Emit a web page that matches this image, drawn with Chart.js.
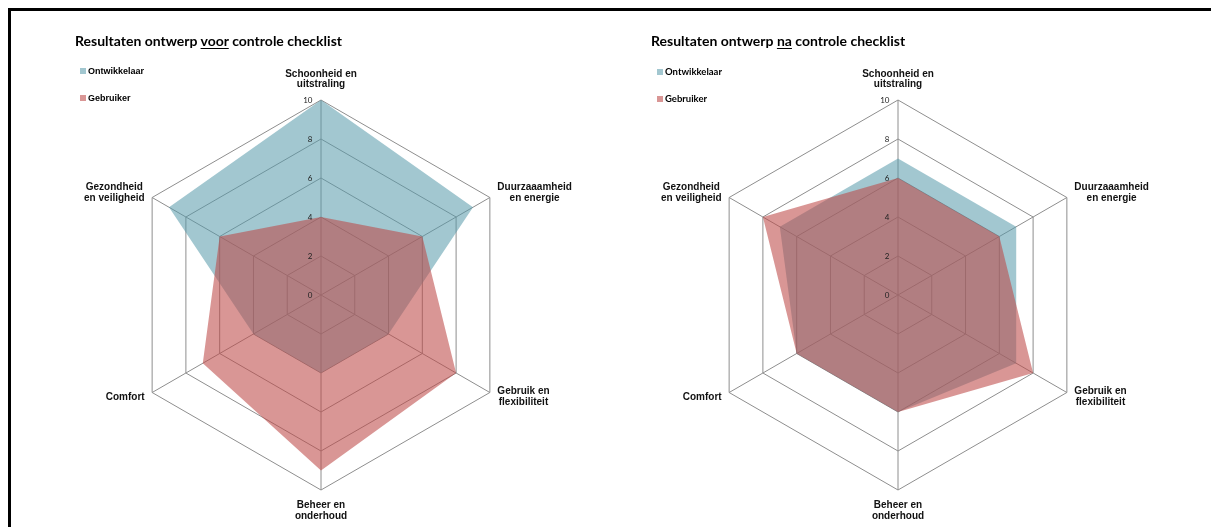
<!DOCTYPE html>
<html lang="nl">
<head>
<meta charset="utf-8">
<title>Resultaten ontwerp</title>
<script src="https://cdn.jsdelivr.net/npm/chart.js@4.4.1/dist/chart.umd.min.js"></script>
<style>
  html, body { margin: 0; padding: 0; background: #fff; }
  body { width: 1211px; height: 527px; position: relative; overflow: hidden; }
  .frame { position: absolute; left: 8px; top: 8px; width: 1400px; height: 800px; border: 3px solid #000; box-sizing: border-box; }
  canvas { position: absolute; top: 0; }
  .title { position: absolute; top: 33px; font: 700 14px "Lato", "Open Sans", sans-serif; line-height: 16px; color: #000; white-space: nowrap; }
  .title u { text-decoration-thickness: 1px; text-underline-offset: 2px; }
  .legend { position: absolute; top: 66px; }
  .legend .item { position: absolute; left: 0; white-space: nowrap; height: 12px; line-height: 12px; color: #000; }
  .legend .sw { display: inline-block; width: 6px; height: 6px; vertical-align: 0px; margin-right: 2px; }
  .legend.arial .item { font: 700 9px "Liberation Sans", Arial, sans-serif; }
  .legend.calibri .item { font: 700 9.5px "Lato", "Open Sans", sans-serif; }
</style>
</head>
<body>
<div class="frame"></div>

<canvas id="voor" width="605" height="527" style="left:0"></canvas>
<canvas id="na" width="606" height="527" style="left:605px"></canvas>

<div class="title" style="left:75px">Resultaten ontwerp <u>voor</u> controle checklist</div>
<div class="title" style="left:651px">Resultaten ontwerp <u>na</u> controle checklist</div>

<div class="legend arial" id="legVoor" style="left:80px"></div>
<div class="legend calibri" id="legNa" style="left:657px"></div>

<script>
// Criteria, clockwise from the top
const criteria = [
  ['Schoonheid en', 'uitstraling'],
  ['Duurzaaamheid', 'en energie'],
  ['Gebruik en', 'flexibiliteit'],
  ['Beheer en', 'onderhoud'],
  ['Comfort'],
  ['Gezondheid', 'en veiligheid']
];

const seriesNames = ['Ontwikkelaar', 'Gebruiker'];

// Scores before the checklist was applied
const ontwikkelaarVoor = [10, 9, 4, 4, 4, 9];
const gebruikerVoor    = [4, 6, 8, 9, 7, 6];

// Scores after the checklist was applied
const ontwikkelaarNa = [7, 7, 7, 6, 6, 7];
const gebruikerNa    = [6, 6, 8, 6, 6, 8];

// Value axis
const scaleMin = 0;
const scaleMax = 10;
const scaleStep = 2;

const blueFill = 'rgba(86, 153, 170, 0.55)';
const redFill  = 'rgba(190, 74, 72, 0.58)';
const gridColor = '#8e8e8e';

// Category labels around the web and tick values along the vertical spoke
const webLabels = {
  id: 'webLabels',
  afterDatasetsDraw(chart) {
    const s = chart.scales.r;
    const ctx = chart.ctx;
    ctx.save();
    ctx.fillStyle = '#111';
    ctx.textBaseline = 'middle';
    ctx.textAlign = 'center';
    ctx.font = 'bold 10px "Liberation Sans", Arial, sans-serif';
    const lh = 10.6;
    chart.data.labels.forEach((lab, i) => {
      const lines = Array.isArray(lab) ? lab : [lab];
      const p = s.getPointPosition(i, s.drawingArea);
      const dx = Math.cos(p.angle), dy = Math.sin(p.angle);
      const h = lines.length * lh;
      const w = Math.max(...lines.map(l => ctx.measureText(l).width));
      let cx, cy;
      if (Math.abs(dx) < 0.01) {
        cx = p.x;
        cy = p.y + dy * (h / 2 + 10);
      } else {
        cx = p.x + Math.sign(dx) * (7.5 + w / 2);
        cy = p.y + dy * 9;
      }
      lines.forEach((l, k) => ctx.fillText(l, cx, cy - h / 2 + lh / 2 + k * lh));
    });

    ctx.font = '8px "Lato", "Open Sans", sans-serif';
    ctx.fillStyle = '#222';
    ctx.textAlign = 'right';
    s.ticks.forEach(t => {
      const y = s.yCenter - s.getDistanceFromCenterForValue(t.value);
      ctx.fillText(String(t.value), s.xCenter - 8.5, y);
    });
    ctx.restore();
  }
};

function makeRadar(id, dev, user, pad) {
  return new Chart(document.getElementById(id), {
    type: 'radar',
    data: {
      labels: criteria,
      datasets: [
        { label: seriesNames[0], data: dev, backgroundColor: blueFill, borderWidth: 0, pointRadius: 0, fill: true, order: 1 },
        { label: seriesNames[1], data: user, backgroundColor: redFill, borderWidth: 0, pointRadius: 0, fill: true, order: 0 }
      ]
    },
    options: {
      responsive: false,
      animation: false,
      devicePixelRatio: 1,
      layout: { padding: pad },
      plugins: { legend: { display: false }, tooltip: { enabled: false }, title: { display: false } },
      elements: { line: { tension: 0 } },
      scales: {
        r: {
          min: scaleMin,
          max: scaleMax,
          ticks: { stepSize: scaleStep, display: false },
          pointLabels: { display: false },
          grid: { color: gridColor, lineWidth: 1, circular: false },
          angleLines: { color: gridColor, lineWidth: 1 }
        }
      }
    },
    plugins: [webLabels]
  });
}

makeRadar('voor', ontwikkelaarVoor, gebruikerVoor, { left: 126, top: 100, right: 89, bottom: 37 });
makeRadar('na', ontwikkelaarNa, gebruikerNa, { left: 98, top: 100, right: 118, bottom: 37 });

// Legends built from the series names and fills
function buildLegend(el) {
  const fills = [blueFill, redFill];
  seriesNames.forEach((name, i) => {
    const d = document.createElement('div');
    d.className = 'item';
    d.style.top = (i * 27) + 'px';
    d.innerHTML = '<span class="sw" style="background:' + fills[i] + '"></span>' + name;
    el.appendChild(d);
  });
}
buildLegend(document.getElementById('legVoor'));
buildLegend(document.getElementById('legNa'));
</script>
</body>
</html>
